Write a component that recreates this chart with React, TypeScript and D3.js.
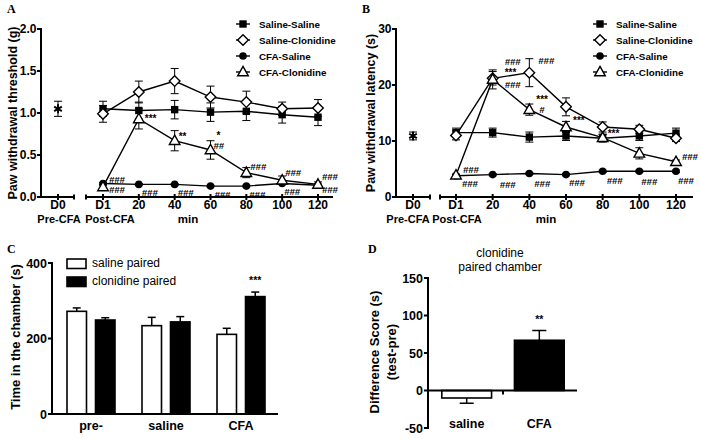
import React from "react";
import * as d3 from "d3";

// ---------- DATA ----------
const timeCats = ["D1", "20", "40", "60", "80", "100", "120"];
const seriesNames = ["Saline-Saline", "Saline-Clonidine", "CFA-Saline", "CFA-Clonidine"];
const seriesMarkers = ["square", "diamond", "circle", "triangle"];

// Panel A: paw withdrawal threshold (g)
const aSalSal = [1.05, 1.03, 1.04, 1.01, 1.02, 0.98, 0.95];
const aSalSalErr = [0.09, 0.1, 0.11, 0.11, 0.11, 0.1, 0.1];
const aSalClo = [0.99, 1.25, 1.38, 1.19, 1.13, 1.05, 1.06];
const aSalCloErr = [0.1, 0.13, 0.15, 0.13, 0.13, 0.08, 0.1];
const aCfaSal = [0.16, 0.15, 0.15, 0.13, 0.13, 0.16, 0.14];
const aCfaSalErr = [0.01, 0.01, 0.01, 0.01, 0.01, 0.01, 0.01];
const aCfaClo = [0.12, 0.93, 0.67, 0.56, 0.29, 0.2, 0.15];
const aCfaCloErr = [0.02, 0.12, 0.12, 0.11, 0.06, 0.05, 0.03];
const aD0 = 1.05;
const aD0Err = 0.09;
const aTicks = ["0.0", "0.5", "1.0", "1.5", "2.0"];

// Panel B: paw withdrawal latency (s)
const bSalSal = [11.5, 11.5, 10.7, 10.9, 10.5, 10.9, 11.4];
const bSalSalErr = [0.8, 0.8, 0.9, 0.8, 0.7, 0.8, 0.9];
const bSalClo = [11.0, 21.2, 22.2, 16.1, 12.5, 12.1, 10.5];
const bSalCloErr = [0.8, 1.2, 2.5, 1.6, 0.9, 0.7, 0.6];
const bCfaSal = [3.8, 4.0, 4.2, 4.0, 4.6, 4.6, 4.6];
const bCfaSalErr = [0.2, 0.2, 0.2, 0.2, 0.2, 0.2, 0.2];
const bCfaClo = [3.9, 21.0, 15.6, 12.5, 10.6, 7.8, 6.3];
const bCfaCloErr = [0.2, 1.7, 1.0, 1.0, 0.6, 1.0, 0.3];
const bD0 = 10.9;
const bD0Err = 0.7;
const bTicks = ["0", "10", "20", "30"];

// Annotations: [series index, time index, text, dx, dy]
const aNotes: [number, number, string, number, number][] = [
  [2, 0, "###", 6, -4], [3, 0, "###", 6, 3],
  [2, 1, "###", 3, 8], [2, 2, "###", 3, 8], [2, 3, "###", 4, 8],
  [2, 4, "###", 3, 8], [2, 5, "###", 2, 8], [2, 6, "###", 4, 4],
  [3, 1, "***", 6, 0], [3, 2, "**", 4, -4], [3, 3, "*", 6, -15], [3, 3, "##", 3, -4],
  [3, 4, "###", 4, -6], [3, 5, "###", 3, -8], [3, 6, "###", 4, -8],
];
const bNotes: [number, number, string, number, number][] = [
  [1, 1, "###", 12, -17], [1, 1, "***", 12, -6], [3, 1, "###", 12, 5],
  [1, 2, "###", 9, -12], [3, 2, "***", 7, -10], [3, 2, "#", 10, 0],
  [3, 3, "***", 7, -7], [3, 4, "***", 5, -4], [3, 6, "###", 6, -5],
  [2, 0, "###", 7, -6], [2, 0, "###", 6, 8], [2, 1, "###", 7, 10],
  [2, 2, "###", 5, 10], [2, 3, "###", 3, 8], [2, 4, "###", 4, 9],
  [2, 5, "###", 2, 10], [2, 6, "###", 2, 9],
];

// Panel C: time in chamber (s)
const cGroups = ["pre-", "saline", "CFA"];
const cPairs = ["saline paired", "clonidine paired"];
const cSaline = [272, 234, 211];
const cSalineErr = [9, 22, 16];
const cClonidine = [249, 244, 311];
const cClonidineErr = [6, 14, 12];
const cTicks = [0, 200, 400];

// Panel D: difference score (s)
const dGroups = ["saline", "CFA"];
const dValues = [-10, 67];
const dErr = [7, 13];
const dTicks = [-50, 0, 50, 100, 150];

const FONT = "'Liberation Sans', Arial, sans-serif";
const SERIF = "'Liberation Serif', 'Times New Roman', serif";

function Marker({ type, x, y }: { type: string; x: number; y: number }) {
  if (type === "square") return <rect x={x - 3.7} y={y - 3.7} width={7.4} height={7.4} fill="#000" />;
  if (type === "circle") return <circle cx={x} cy={y} r={3.8} fill="#000" />;
  if (type === "diamond")
    return <path d={`M${x},${y - 5.3}L${x + 5.3},${y}L${x},${y + 5.3}L${x - 5.3},${y}Z`} fill="#fff" stroke="#000" strokeWidth={1.4} />;
  return <path d={`M${x},${y - 5.6}L${x + 5.3},${y + 3.8}L${x - 5.3},${y + 3.8}Z`} fill="#fff" stroke="#000" strokeWidth={1.4} />;
}

function ErrBar({ x, y0, y1, w = 4 }: { x: number; y0: number; y1: number; w?: number }) {
  return (
    <g stroke="#000" strokeWidth={1}>
      <line x1={x} x2={x} y1={y0} y2={y1} />
      <line x1={x - w} x2={x + w} y1={y0} y2={y0} />
      <line x1={x - w} x2={x + w} y1={y1} y2={y1} />
    </g>
  );
}

type LP = {
  letter: string; letterX: number;
  yMax: number; ticks: string[]; yLabel: string;
  axisX: number; d0X: number; leftEnd: number; rightStart: number; rightEnd: number;
  range: [number, number];
  series: number[][]; errs: number[][];
  d0: number; d0Err: number; notes: [number, number, string, number, number][];
  legendX: number; preX: number; postX: number; minX: number; labelX: number;
};

function LinePanel(p: LP) {
  const top = 29, bottom = 197;
  const y = d3.scaleLinear().domain([0, p.yMax]).range([bottom, top]);
  const x = d3.scalePoint<string>().domain(timeCats).range(p.range);
  const line = d3.line<number>().x((_, i) => x(timeCats[i])!).y((v) => y(v));
  const asterisk = d3.symbol().type(d3.symbolAsterisk).size(55)();
  const legendRows = [24, 40, 56, 72];
  return (
    <g fontFamily={FONT}>
      <text x={p.letterX} y={13} fontFamily={SERIF} fontWeight="bold" fontSize={12}>{p.letter}</text>
      {/* y axis */}
      <line x1={p.axisX} x2={p.axisX} y1={top - 1} y2={bottom + 1} stroke="#000" strokeWidth={2} />
      {p.ticks.map((t) => (
        <g key={t}>
          <line x1={p.axisX - 4} x2={p.axisX} y1={y(+t)} y2={y(+t)} stroke="#000" strokeWidth={2} />
          <text x={p.axisX - 4.5} y={y(+t)} dy="0.36em" textAnchor="end" fontWeight="bold" fontSize={12}>{t}</text>
        </g>
      ))}
      <text transform={`translate(${p.labelX},${(top + bottom) / 2}) rotate(-90)`} textAnchor="middle" fontWeight="bold" fontSize={12.5}>{p.yLabel}</text>
      {/* x axis, broken */}
      <line x1={p.axisX - 1} x2={p.leftEnd} y1={bottom} y2={bottom} stroke="#000" strokeWidth={2} />
      <line x1={p.leftEnd} x2={p.leftEnd} y1={bottom - 2.5} y2={bottom + 2.5} stroke="#000" strokeWidth={2} />
      <line x1={p.rightStart} x2={p.rightEnd} y1={bottom} y2={bottom} stroke="#000" strokeWidth={2} />
      <line x1={p.rightStart} x2={p.rightStart} y1={bottom - 2.5} y2={bottom + 2.5} stroke="#000" strokeWidth={2} />
      {[p.d0X, ...timeCats.map((c) => x(c)!)].map((tx, i) => (
        <line key={i} x1={tx} x2={tx} y1={bottom - 3} y2={bottom + 3} stroke="#000" strokeWidth={2} />
      ))}
      <text x={p.d0X} y={209} textAnchor="middle" fontWeight="bold" fontSize={12}>D0</text>
      {timeCats.map((c) => (
        <text key={c} x={x(c)!} y={209} textAnchor="middle" fontWeight="bold" fontSize={12}>{c}</text>
      ))}
      <text x={p.preX} y={223} textAnchor="middle" fontWeight="bold" fontSize={11}>Pre-CFA</text>
      <text x={p.postX} y={223} textAnchor="middle" fontWeight="bold" fontSize={11}>Post-CFA</text>
      <text x={p.minX} y={223} textAnchor="middle" fontWeight="bold" fontSize={11.5}>min</text>
      {/* D0 point */}
      <ErrBar x={p.d0X} y0={y(p.d0 - p.d0Err)} y1={y(p.d0 + p.d0Err)} />
      <path d={asterisk!} transform={`translate(${p.d0X},${y(p.d0)})`} stroke="#000" strokeWidth={2} fill="none" />
      <circle cx={p.d0X} cy={y(p.d0)} r={2} fill="#000" />
      {/* series */}
      {p.series.map((s, si) =>
        s.map((v, i) => (
          <ErrBar key={`e${si}-${i}`} x={x(timeCats[i])!} y0={y(v - p.errs[si][i])} y1={y(v + p.errs[si][i])} />
        ))
      )}
      {p.series.map((s, si) => (
        <path key={`l${si}`} d={line(s)!} fill="none" stroke="#000" strokeWidth={1.4} />
      ))}
      {p.series.map((s, si) =>
        s.map((v, i) => <Marker key={`m${si}-${i}`} type={seriesMarkers[si]} x={x(timeCats[i])!} y={y(v)} />)
      )}
      {p.notes.map(([si, ti, t, dx, dy], k) => (
        <text key={`n${k}`} x={x(timeCats[ti])! + dx} y={y(p.series[si][ti]) + dy} dy="0.36em"
          fontSize={t.startsWith("#") ? 9.5 : 10} fontWeight="bold" fontStyle={t.startsWith("#") ? "italic" : "normal"}>{t}</text>
      ))}
      {/* legend */}
      {seriesNames.map((n, i) => (
        <g key={n}>
          <line x1={p.legendX - 7} x2={p.legendX + 7} y1={legendRows[i]} y2={legendRows[i]} stroke="#000" strokeWidth={1.4} />
          <Marker type={seriesMarkers[i]} x={p.legendX} y={legendRows[i]} />
          <text x={p.legendX + 16} y={legendRows[i]} dy="0.36em" fontWeight="bold" fontSize={9.8}>{n}</text>
        </g>
      ))}
    </g>
  );
}

function PanelC() {
  const top = 263, bottom = 414, axisX = 52;
  const y = d3.scaleLinear().domain([0, 400]).range([bottom, top]);
  const x = d3.scaleBand<string>().domain(cGroups).range([53.5, 278.5]);
  const inner = d3.scaleBand<string>().domain(cPairs).range([-24, 24]).paddingInner(0.316);
  const vals = [cSaline, cClonidine];
  const errs = [cSalineErr, cClonidineErr];
  return (
    <g fontFamily={FONT}>
      <text x={7} y={253} fontFamily={SERIF} fontWeight="bold" fontSize={12}>C</text>
      {cGroups.map((g, gi) =>
        cPairs.map((pr, pi) => {
          const cx = x(g)! + x.bandwidth() / 2 + inner(pr)!;
          const v = vals[pi][gi], e = errs[pi][gi];
          const bc = cx + inner.bandwidth() / 2;
          return (
            <g key={g + pr}>
              <line x1={bc} x2={bc} y1={y(v)} y2={y(v + e)} stroke="#000" strokeWidth={1.5} />
              <line x1={bc - 4} x2={bc + 4} y1={y(v + e)} y2={y(v + e)} stroke="#000" strokeWidth={1.5} />
              <rect x={cx} y={y(v)} width={inner.bandwidth()} height={bottom - y(v)} fill={pi ? "#000" : "#fff"} stroke="#000" strokeWidth={1.6} />
            </g>
          );
        })
      )}
      <line x1={axisX} x2={axisX} y1={top - 1} y2={bottom + 1} stroke="#000" strokeWidth={2} />
      <line x1={axisX} x2={278} y1={bottom} y2={bottom} stroke="#000" strokeWidth={2} />
      {cTicks.map((t) => (
        <g key={t}>
          <line x1={axisX - 4} x2={axisX} y1={y(t)} y2={y(t)} stroke="#000" strokeWidth={2} />
          <text x={axisX - 5} y={y(t)} dy="0.36em" textAnchor="end" fontWeight="bold" fontSize={12.5}>{t}</text>
        </g>
      ))}
      {cGroups.map((g) => (
        <text key={g} x={x(g)! + x.bandwidth() / 2} y={430} textAnchor="middle" fontWeight="bold" fontSize={12.5}>{g}</text>
      ))}
      <text transform={`translate(20,337) rotate(-90)`} textAnchor="middle" fontWeight="bold" fontSize={13}>Time in the chamber (s)</text>
      <text x={x("CFA")! + x.bandwidth() / 2 + inner(cPairs[1])! + inner.bandwidth() / 2} y={y(cClonidine[2] + cClonidineErr[2]) - 8}
        textAnchor="middle" fontWeight="bold" fontSize={10.5}>***</text>
      {cPairs.map((pr, i) => (
        <g key={pr}>
          <rect x={67} y={259 + i * 18} width={19} height={9.5} fill={i ? "#000" : "#fff"} stroke="#000" strokeWidth={1.6} />
          <text x={92} y={267 + i * 18} fontSize={12}>{pr}</text>
        </g>
      ))}
    </g>
  );
}

function PanelD() {
  const top = 278, bottom = 428, axisX = 428;
  const y = d3.scaleLinear().domain([-50, 150]).range([bottom, top]);
  const x = d3.scaleBand<string>().domain(dGroups).range([428, 578]).paddingInner(0.315).paddingOuter(0.19);
  return (
    <g fontFamily={FONT}>
      <text x={368} y={253} fontFamily={SERIF} fontWeight="bold" fontSize={12}>D</text>
      <text x={500} y={257} textAnchor="middle" fontSize={12}>clonidine</text>
      <text x={500} y={271} textAnchor="middle" fontSize={12}>paired chamber</text>
      {dGroups.map((g, i) => {
        const v = dValues[i], e = dErr[i] * Math.sign(v);
        const bx = x(g)!, cx = bx + x.bandwidth() / 2;
        return (
          <g key={g}>
            <line x1={cx} x2={cx} y1={y(v)} y2={y(v + e)} stroke="#000" strokeWidth={1.5} />
            <line x1={cx - 7} x2={cx + 7} y1={y(v + e)} y2={y(v + e)} stroke="#000" strokeWidth={1.5} />
            <rect x={bx} y={Math.min(y(v), y(0))} width={x.bandwidth()} height={Math.abs(y(v) - y(0))}
              fill={i ? "#000" : "#fff"} stroke="#000" strokeWidth={1.6} />
            <text x={cx} y={428} textAnchor="middle" fontWeight="bold" fontSize={12.5}>{g}</text>
          </g>
        );
      })}
      <line x1={axisX} x2={axisX} y1={top - 1} y2={bottom + 1} stroke="#000" strokeWidth={2} />
      <line x1={axisX} x2={577} y1={y(0)} y2={y(0)} stroke="#000" strokeWidth={2} />
      <line x1={503} x2={503} y1={y(0)} y2={y(0) + 4} stroke="#000" strokeWidth={2} />
      {dTicks.map((t) => (
        <g key={t}>
          <line x1={axisX - 4} x2={axisX} y1={y(t)} y2={y(t)} stroke="#000" strokeWidth={2} />
          <text x={axisX - 5} y={y(t)} dy="0.36em" textAnchor="end" fontWeight="bold" fontSize={12.5}>{t}</text>
        </g>
      ))}
      <text transform={`translate(379,352) rotate(-90)`} textAnchor="middle" fontWeight="bold" fontSize={13}>Difference Score (s)</text>
      <text transform={`translate(396,352) rotate(-90)`} textAnchor="middle" fontWeight="bold" fontSize={13}>(test-pre)</text>
      <text x={x("CFA")! + x.bandwidth() / 2} y={y(dValues[1] + dErr[1]) - 8} textAnchor="middle" fontWeight="bold" fontSize={10.5}>**</text>
    </g>
  );
}

export default function App() {
  return (
    <svg width={701} height={439} style={{ position: "absolute", left: 0, top: 0, background: "#fff" }}>
      <rect width={701} height={439} fill="#fff" />
      <LinePanel letter="A" letterX={7} yMax={2} ticks={aTicks} yLabel="Paw withdrawal threshold (g)"
        axisX={41} d0X={58} leftEnd={74} rightStart={86} rightEnd={333} range={[103, 318]}
        series={[aSalSal, aSalClo, aCfaSal, aCfaClo]} errs={[aSalSalErr, aSalCloErr, aCfaSalErr, aCfaCloErr]}
        d0={aD0} d0Err={aD0Err} notes={aNotes} legendX={243} preX={59} postX={110} minX={188} labelX={17} />
      <LinePanel letter="B" letterX={362} yMax={30} ticks={bTicks} yLabel="Paw withdrawal latency (s)"
        axisX={396} d0X={413} leftEnd={430} rightStart={440} rightEnd={693} range={[456, 676]}
        series={[bSalSal, bSalClo, bCfaSal, bCfaClo]} errs={[bSalSalErr, bSalCloErr, bCfaSalErr, bCfaCloErr]}
        d0={bD0} d0Err={bD0Err} notes={bNotes} legendX={600} preX={408} postX={457} minX={546} labelX={375} />
      <PanelC />
      <PanelD />
    </svg>
  );
}
